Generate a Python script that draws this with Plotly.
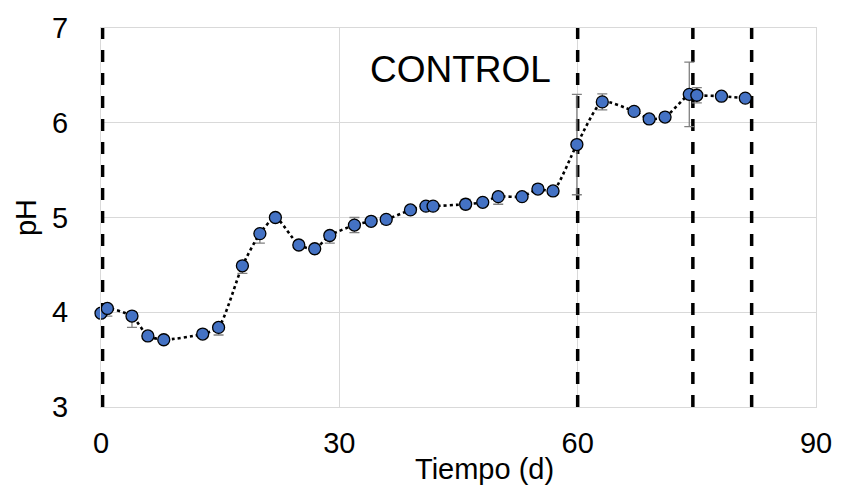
import plotly.graph_objects as go

# Data
tiempo = [0.0, 0.8, 3.9, 5.9, 7.9, 12.8, 14.8, 17.8, 20.0, 21.95,
          24.9, 26.9, 28.8, 31.9, 34.0, 35.9, 38.95, 40.9, 41.8, 45.9,
          48.05, 50.0, 53.0, 55.0, 56.9, 59.9, 63.1, 67.1, 69.0, 71.0,
          74.05, 75.0, 78.1, 81.1]
ph = [3.99, 4.04, 3.96, 3.75, 3.71, 3.77, 3.84, 4.49, 4.83, 5.00,
      4.71, 4.67, 4.81, 4.92, 4.96, 4.98, 5.08, 5.12, 5.12, 5.14,
      5.16, 5.22, 5.22, 5.30, 5.28, 5.77, 6.22, 6.12, 6.04, 6.06,
      6.30, 6.29, 6.28, 6.26]
err_plus = [0, 0, 0, 0, 0, 0, 0, 0, 0, 0,
            0, 0, 0, 0.08, 0, 0, 0, 0, 0, 0.05,
            0, 0, 0, 0, 0, 0.53, 0.085, 0, 0, 0,
            0.34, 0.08, 0, 0]
err_minus = [0, 0.08, 0.12, 0, 0, 0, 0.08, 0.08, 0.10, 0,
             0, 0, 0.08, 0.08, 0, 0.05, 0, 0, 0, 0.05,
             0, 0.08, 0, 0, 0, 0.53, 0.085, 0, 0, 0,
             0.34, 0.08, 0, 0]
vlines_x = [0.2, 60, 74.5, 81.9]
y_range = [3, 7]
x_ticks = [0, 30, 60, 90]
y_ticks = [3, 4, 5, 6, 7]
label_text = "CONTROL"
x_title = "Tiempo (d)"
y_title = "pH"

FONT = "Liberation Sans, Arial, sans-serif"
GRID = "#d9d9d9"

fig = go.Figure()

for xv in vlines_x:
    fig.add_trace(go.Scatter(
        x=[xv, xv], y=y_range, mode="lines",
        line=dict(color="black", width=3.5, dash="12px,11px"),
        showlegend=False, hoverinfo="skip"))

fig.add_trace(go.Scatter(
    x=tiempo, y=ph, mode="lines+markers", cliponaxis=False,
    line=dict(color="black", width=2.6, dash="dot", shape="spline", smoothing=0.6),
    marker=dict(size=12, color="#4472C4", line=dict(color="black", width=1.3)),
    error_y=dict(type="data", symmetric=False, array=err_plus, arrayminus=err_minus,
                 color="#808080", thickness=1.3, width=5),
    showlegend=False))

fig.add_annotation(x=45.3, y=6.56, text=label_text, showarrow=False,
                   font=dict(family=FONT, size=37, color="black"))

# x-axis title (offset right of centre, as in the reference)
fig.add_annotation(xref="paper", yref="paper", x=0.537, y=-0.164,
                   xanchor="center", yanchor="middle", text=x_title, showarrow=False,
                   font=dict(family=FONT, size=29, color="black"))

fig.update_layout(
    width=848, height=493,
    margin=dict(l=101, r=32, t=23, b=86),
    paper_bgcolor="white", plot_bgcolor="white",
    font=dict(family=FONT, color="black"),
)
fig.update_xaxes(
    range=[0, 90], tickvals=x_ticks, showgrid=True, gridcolor=GRID, gridwidth=1,
    showline=True, linecolor=GRID, linewidth=1, mirror=True, zeroline=False,
    ticks="", ticklabelstandoff=10,
    tickfont=dict(size=29, family=FONT, color="black"),
)
fig.update_yaxes(
    range=y_range, tickvals=y_ticks, showgrid=True, gridcolor=GRID, gridwidth=1,
    showline=True, linecolor=GRID, linewidth=1, mirror=True, zeroline=False,
    ticks="", ticklabelstandoff=26,
    tickfont=dict(size=29, family=FONT, color="black"),
    title=dict(text=y_title, font=dict(size=29, family=FONT, color="black"), standoff=6),
)

fig.write_html("out.html")
